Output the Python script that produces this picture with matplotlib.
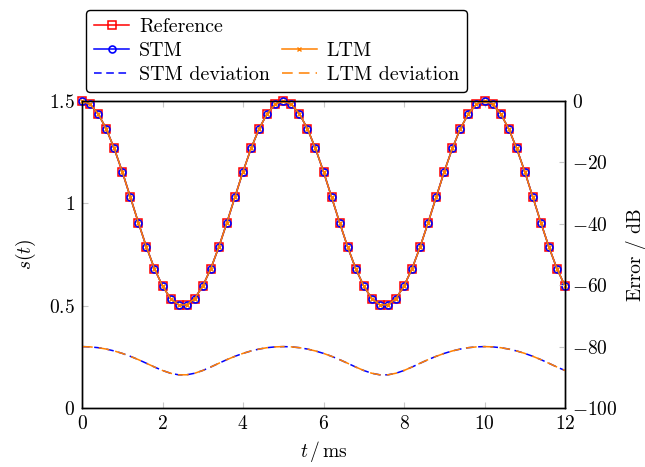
"""
    Reference signal vs STM / LTM reconstruction and their deviation in dB
"""
import matplotlib
matplotlib.use('Agg')
import matplotlib.pyplot as plt
from matplotlib.ticker import FuncFormatter, MultipleLocator
from matplotlib.lines import Line2D

plt.rcParams['font.family'] = 'serif'
plt.rcParams['font.serif'] = ['cmr10', 'DejaVu Serif']
plt.rcParams['mathtext.fontset'] = 'cm'
plt.rcParams['axes.formatter.use_mathtext'] = True
plt.rcParams['font.size'] = 14

# time axis in ms, one sample every 0.2 ms
t = [0.0, 0.2, 0.4, 0.6, 0.8, 1.0, 1.2, 1.4, 1.6, 1.8,
     2.0, 2.2, 2.4, 2.6, 2.8, 3.0, 3.2, 3.4, 3.6, 3.8,
     4.0, 4.2, 4.4, 4.6, 4.8, 5.0, 5.2, 5.4, 5.6, 5.8,
     6.0, 6.2, 6.4, 6.6, 6.8, 7.0, 7.2, 7.4, 7.6, 7.8,
     8.0, 8.2, 8.4, 8.6, 8.8, 9.0, 9.2, 9.4, 9.6, 9.8,
     10.0, 10.2, 10.4, 10.6, 10.8, 11.0, 11.2, 11.4, 11.6, 11.8,
     12.0]

s_ref = [1.500, 1.484, 1.438, 1.365, 1.268, 1.155, 1.031, 0.906, 0.787, 0.681,
         0.596, 0.535, 0.504, 0.504, 0.535, 0.596, 0.681, 0.787, 0.906, 1.031,
         1.155, 1.268, 1.365, 1.438, 1.484, 1.500, 1.484, 1.438, 1.365, 1.268,
         1.155, 1.031, 0.906, 0.787, 0.681, 0.596, 0.535, 0.504, 0.504, 0.535,
         0.596, 0.681, 0.787, 0.906, 1.031, 1.155, 1.268, 1.365, 1.438, 1.484,
         1.500, 1.484, 1.438, 1.365, 1.268, 1.155, 1.031, 0.906, 0.787, 0.681,
         0.596]
s_stm = list(s_ref)
s_ltm = list(s_ref)

dev_stm = [-80.00, -80.09, -80.35, -80.80, -81.42, -82.21, -83.16, -84.24, -85.43, -86.65,
           -87.78, -88.68, -89.19, -89.19, -88.68, -87.78, -86.65, -85.43, -84.24, -83.16,
           -82.21, -81.42, -80.80, -80.35, -80.09, -80.00, -80.09, -80.35, -80.80, -81.42,
           -82.21, -83.16, -84.24, -85.43, -86.65, -87.78, -88.68, -89.19, -89.19, -88.68,
           -87.78, -86.65, -85.43, -84.24, -83.16, -82.21, -81.42, -80.80, -80.35, -80.09,
           -80.00, -80.09, -80.35, -80.80, -81.42, -82.21, -83.16, -84.24, -85.43, -86.65,
           -87.78]
dev_ltm = list(dev_stm)

RED = '#ff0000'
BLUE = '#0000ff'
ORANGE = '#ff8000'
TICK_GREY = '#c8c8c8'


def fmt_left(v, pos):
    return f'${v:g}$'


def fmt_right(v, pos):
    return f'${int(round(v))}$'


fig = plt.figure(figsize=(6.45, 4.67), dpi=100)
ax = fig.add_axes([82 / 645, 1 - 408 / 467, (565 - 82) / 645, (408 - 101) / 467])
ax2 = ax.twinx()

ref_line, = ax.plot(t, s_ref, color=RED, lw=1.1, marker='s', ms=5.5, mfc='none', mec=RED, mew=1.1,
                    label='Reference', zorder=3, clip_on=False)
stm_line, = ax.plot(t, s_stm, color=BLUE, lw=1.1, marker='o', ms=5, mfc='none', mec=BLUE, mew=1.2,
                    label='STM', zorder=4, clip_on=False)
ltm_line, = ax.plot(t, s_ltm, color=ORANGE, lw=1.1, marker='x', ms=3.5, mew=1.0,
                    label='LTM', zorder=5, clip_on=False)

stm_dev, = ax2.plot(t, dev_stm, color=BLUE, lw=1.1, ls=(0, (5, 3)), label='STM deviation')
ltm_dev, = ax2.plot(t, dev_ltm, color=ORANGE, lw=1.1, ls=(0, (7, 4)), label='LTM deviation')

ax.set_xlim(0, 12)
ax.set_ylim(0, 1.5)
ax2.set_ylim(-100, 0)
ax.xaxis.set_major_locator(MultipleLocator(2))
ax.yaxis.set_major_locator(MultipleLocator(0.5))
ax2.yaxis.set_major_locator(MultipleLocator(20))
ax.xaxis.set_major_formatter(FuncFormatter(fmt_left))
ax.yaxis.set_major_formatter(FuncFormatter(fmt_left))
ax2.yaxis.set_major_formatter(FuncFormatter(fmt_right))

ax.tick_params(axis='x', direction='in', top=True, color=TICK_GREY, length=4, labelsize=14, pad=5)
ax.tick_params(axis='y', direction='in', right=False, color=TICK_GREY, length=4, labelsize=14, pad=5)
ax2.tick_params(axis='y', direction='in', color=TICK_GREY, length=4, labelsize=14, pad=5)

for a in (ax, ax2):
    for sp in a.spines.values():
        sp.set_linewidth(1.0)
        sp.set_color('black')

ax.set_xlabel(r'$t\,/\,\mathrm{ms}$', fontsize=14, labelpad=4)
ax.set_ylabel(r'$s(t)$', fontsize=14, labelpad=8)
ax2.set_ylabel('Error / dB', fontsize=14, labelpad=6)

blank = Line2D([], [], linestyle='none')
handles = [ref_line, stm_line, stm_dev, blank, ltm_line, ltm_dev]
labels = ['Reference', 'STM', 'STM deviation', '', 'LTM', 'LTM deviation']
leg = fig.legend(handles, labels, ncol=2, loc='lower left',
                 bbox_to_anchor=(86 / 645, 1 - 92 / 467), borderaxespad=0,
                 fontsize=14.4, handlelength=1.75, handletextpad=0.5, labelspacing=0.3,
                 columnspacing=0.6, fancybox=True, framealpha=1, edgecolor='black', borderpad=0.4)
leg.get_frame().set_linewidth(1.0)

fig.savefig('out.png', dpi=100)
